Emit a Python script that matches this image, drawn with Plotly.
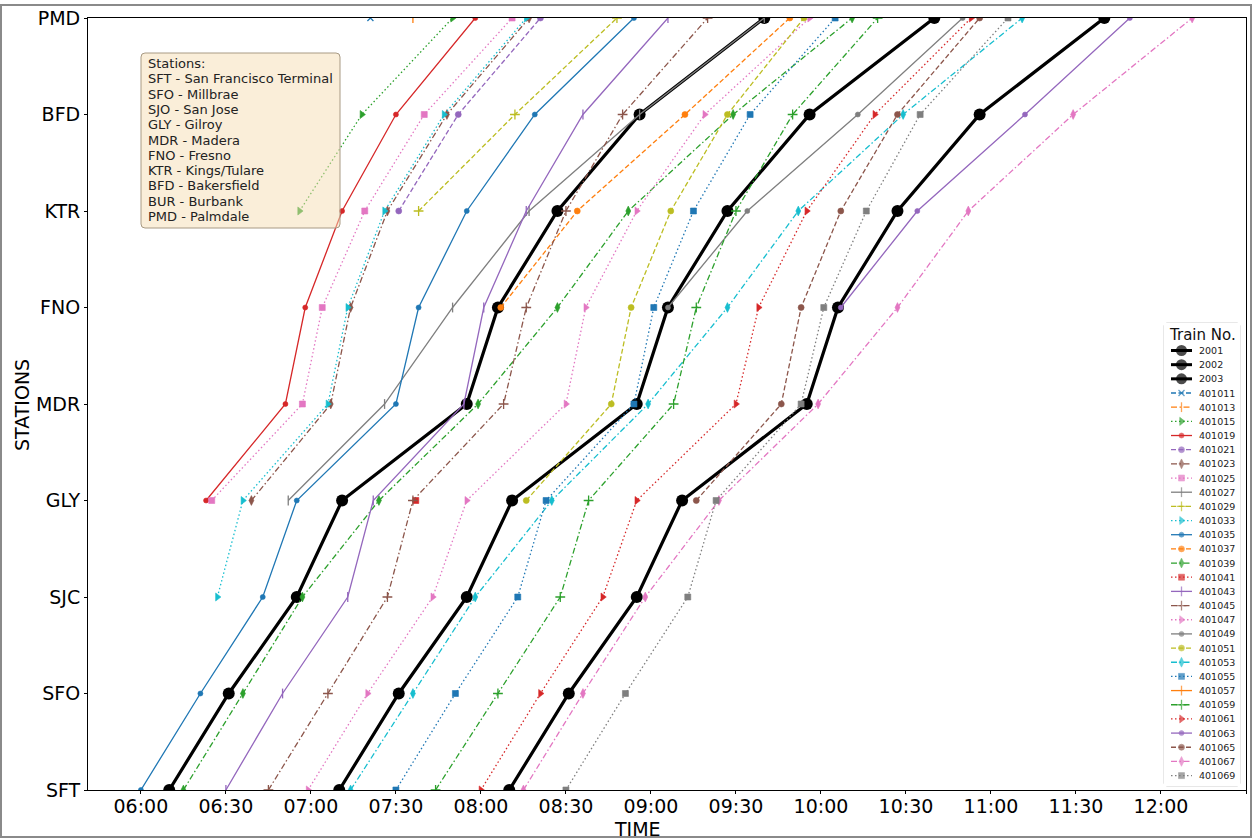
import plotly.graph_objects as go

DAY = "2000-01-01 "
STATIONS = ["SFT", "SFO", "SJC", "GLY", "MDR", "FNO", "KTR", "BFD", "PMD"]
N = None

# Departure times per station, ordered SFT -> PMD (None = no stop shown)
t2001 = ["06:10", "06:31", "06:55", "07:11", "07:55", "08:06", "08:27", "08:56", "09:40"]
t2002 = ["07:10", "07:31", "07:55", "08:11", "08:55", "09:06", "09:27", "09:56", "10:40"]
t2003 = ["08:10", "08:31", "08:55", "09:11", "09:55", "10:06", "10:27", "10:56", "11:40"]
t401011 = [N, N, N, N, N, N, N, N, "07:21"]
t401013 = [N, N, N, N, N, N, N, N, "07:36"]
t401015 = [N, N, N, N, N, N, "06:56", "07:18", "07:50"]
t401019 = [N, N, N, "06:23", "06:51", "06:58", "07:11", "07:30", "07:58"]
t401021 = [N, N, N, N, N, N, "07:31", "07:52", "08:21"]
t401023 = [N, N, N, "06:39", "07:07", "07:14", "07:27", "07:48", "08:17"]
t401025 = [N, N, N, "06:25", "06:57", "07:04", "07:19", "07:40", "08:11"]
t401027 = [N, N, N, "06:52", "07:26", "07:50", "08:17", "08:56", "09:40"]
t401029 = [N, N, N, N, N, N, "07:38", "08:12", "08:48"]
t401033 = [N, N, "06:27", "06:36", "07:06", "07:13", "07:26", "07:47", "08:16"]
t401035 = ["06:00", "06:21", "06:43", "06:55", "07:30", "07:38", "07:55", "08:19", "08:54"]
t401037 = [N, N, N, N, N, "08:07", "08:34", "09:12", "09:49"]
t401039 = ["06:15", "06:36", "06:57", "07:24", "07:59", "08:27", "08:52", "09:29", "10:11"]
t401041 = [N, N, N, "07:37", N, N, N, N, N]
t401043 = ["06:30", "06:50", "07:13", "07:22", "07:54", "08:01", "08:16", "08:36", "09:06"]
t401045 = ["06:45", "07:06", "07:27", "07:36", "08:08", "08:16", "08:30", "08:50", "09:20"]
t401047 = ["06:59", "07:20", "07:43", "07:55", "08:30", "08:37", "08:55", "09:19", "09:56"]
t401049 = [N, N, N, N, N, "09:06", "09:34", "10:13", "10:50"]
t401051 = [N, N, N, "08:16", "08:46", "08:53", "09:07", "09:27", "09:54"]
t401053 = ["07:14", "07:36", "07:58", "08:25", "08:59", "09:27", "09:52", "10:29", "11:11"]
t401055 = ["07:30", "07:51", "08:13", "08:23", "08:54", "09:01", "09:15", "09:35", "10:05"]
t401057 = [N, N, N, N, N, N, N, N, N]
t401059 = ["07:44", "08:06", "08:28", "08:38", "09:08", "09:16", "09:30", "09:50", "10:20"]
t401061 = ["08:00", "08:21", "08:43", "08:55", "09:30", "09:38", "09:55", "10:19", "10:53"]
t401063 = [N, N, N, N, N, "10:07", "10:34", "11:12", "11:49"]
t401065 = [N, N, N, "09:16", "09:46", "09:53", "10:07", "10:27", "10:56"]
t401067 = ["08:15", "08:36", "08:58", "09:24", "09:59", "10:27", "10:52", "11:29", "12:11"]
t401069 = ["08:30", "08:51", "09:13", "09:23", "09:53", "10:01", "10:16", "10:35", "11:06"]

TRAINS = [
    ("2001", t2001), ("2002", t2002), ("2003", t2003),
    ("401011", t401011), ("401013", t401013), ("401015", t401015),
    ("401019", t401019), ("401021", t401021), ("401023", t401023),
    ("401025", t401025), ("401027", t401027), ("401029", t401029),
    ("401033", t401033), ("401035", t401035), ("401037", t401037),
    ("401039", t401039), ("401041", t401041), ("401043", t401043),
    ("401045", t401045), ("401047", t401047), ("401049", t401049),
    ("401051", t401051), ("401053", t401053), ("401055", t401055),
    ("401057", t401057), ("401059", t401059), ("401061", t401061),
    ("401063", t401063), ("401065", t401065), ("401067", t401067),
    ("401069", t401069),
]

STATION_NOTES = [
    "Stations:",
    "SFT - San Francisco Terminal",
    "SFO - Millbrae",
    "SJO - San Jose",
    "GLY - Gilroy",
    "MDR - Madera",
    "FNO - Fresno",
    "KTR - Kings/Tulare",
    "BFD - Bakersfield",
    "BUR - Burbank",
    "PMD - Palmdale",
]

# tab10 palette, line dash patterns and marker shapes
C = {"blue": "#1f77b4", "orange": "#ff7f0e", "green": "#2ca02c", "red": "#d62728",
     "purple": "#9467bd", "brown": "#8c564b", "pink": "#e377c2", "gray": "#7f7f7f",
     "olive": "#bcbd22", "cyan": "#17becf"}
DASH = {"-": "solid", "--": "5px,2.5px", ":": "1.5px,2.5px", "-.": "6px,2.5px,1.5px,2.5px"}
SYM = {"x": ("x-thin-open", 6), "|": ("line-ns-open", 7), ">": ("triangle-right", 7),
       ".": ("circle", 5), "o": ("circle", 6), "d": ("diamond-tall", 7),
       "s": ("square", 6), "+": ("cross-thin-open", 7)}

STYLE = {
    "401011": ("blue", "--", "x"), "401013": ("orange", "-.", "|"),
    "401015": ("green", ":", ">"), "401019": ("red", "-", "."),
    "401021": ("purple", "--", "o"), "401023": ("brown", "-.", "d"),
    "401025": ("pink", ":", "s"), "401027": ("gray", "-", "|"),
    "401029": ("olive", "--", "+"), "401033": ("cyan", ":", ">"),
    "401035": ("blue", "-", "."), "401037": ("orange", "--", "o"),
    "401039": ("green", "-.", "d"), "401041": ("red", ":", "s"),
    "401043": ("purple", "-", "|"), "401045": ("brown", "-.", "+"),
    "401047": ("pink", ":", ">"), "401049": ("gray", "-", "."),
    "401051": ("olive", "--", "o"), "401053": ("cyan", "-.", "d"),
    "401055": ("blue", ":", "s"), "401057": ("orange", "-", "|"),
    "401059": ("green", "-.", "+"), "401061": ("red", ":", ">"),
    "401063": ("purple", "-", "."), "401065": ("brown", "--", "o"),
    "401067": ("pink", "-.", "d"), "401069": ("gray", ":", "s"),
}


def style_of(name):
    if name in STYLE:
        col, ls, mk = STYLE[name]
        sym, size = SYM[mk]
        return dict(color=C[col], dash=DASH[ls], width=1.3, symbol=sym, size=size,
                    mlw=1.3 if sym.endswith("open") else 0.6)
    return dict(color="black", dash="solid", width=3.2, symbol="circle", size=12, mlw=0)


# figure geometry (pixels)
W, H = 1257, 840
PL, PT, PW, PH = 88, 18, 1158, 772


def px(xp):
    return (xp - PL) / PW


def py(yp):
    return (PT + PH - yp) / PH


def rounded_rect(x0, y0, x1, y1, r):
    """SVG path of a rounded rectangle given in figure pixels, in paper units."""
    rx, ry = r / PW, r / PH
    a, b, c, d = px(x0), px(x1), py(y1), py(y0)
    return (f"M{a + rx},{c} L{b - rx},{c} Q{b},{c} {b},{c + ry} "
            f"L{b},{d - ry} Q{b},{d} {b - rx},{d} L{a + rx},{d} Q{a},{d} {a},{d - ry} "
            f"L{a},{c + ry} Q{a},{c} {a + rx},{c} Z")


fig = go.Figure()

for name, times in TRAINS:
    st = style_of(name)
    pts = [(DAY + t, i) for i, t in enumerate(times) if t]
    fig.add_trace(go.Scatter(
        x=[p[0] for p in pts], y=[p[1] for p in pts],
        mode="lines+markers", name=name, showlegend=False,
        line=dict(color=st["color"], width=st["width"], dash=st["dash"]),
        marker=dict(symbol=st["symbol"], size=st["size"], color=st["color"],
                    line=dict(color=st["color"], width=st["mlw"])),
        cliponaxis=True,
    ))

# Legend panel drawn on its own small axes (pixel-like units)
LX0, LX1, LY0, LY1 = 1164, 1240, 323, 786
for i, (name, _) in enumerate(TRAINS):
    st = style_of(name)
    yy = 350.5 + i * 14.17
    big = name in ("2001", "2002", "2003")
    fig.add_trace(go.Scatter(
        x=[1171, 1181.5, 1192], y=[yy, yy, yy], xaxis="x2", yaxis="y2",
        mode="lines+markers", showlegend=False, hoverinfo="skip",
        line=dict(color=st["color"], width=3 if big else 1.3, dash=st["dash"]),
        marker=dict(symbol=st["symbol"], size=[0, 11 if big else st["size"], 0],
                    color=st["color"], line=dict(color=st["color"], width=st["mlw"])),
    ))
    fig.add_annotation(x=1197, y=yy, xref="x2", yref="y2", text=name, showarrow=False,
                       xanchor="left", yanchor="middle",
                       font=dict(family="DejaVu Sans", size=9.5, color="#222"))

fig.add_annotation(x=1202, y=335, xref="x2", yref="y2", text="Train No.", showarrow=False,
                   xanchor="center", yanchor="middle",
                   font=dict(family="DejaVu Sans", size=15, color="#111"))
fig.add_shape(type="path", xref="paper", yref="paper",
              path=rounded_rect(LX0, LY0, LX1, LY1, 3),
              line=dict(color="#d0d0d0", width=1), fillcolor="rgba(255,255,255,0.8)",
              layer="below")

# Station key box
fig.add_shape(type="path", xref="paper", yref="paper",
              path=rounded_rect(141, 53, 340, 228, 4),
              line=dict(color="#a89a84", width=1), fillcolor="rgba(245,222,179,0.5)",
              layer="above")
for k, line in enumerate(STATION_NOTES):
    fig.add_annotation(x=px(146), y=py(63.5 + 15.3 * k), xref="paper", yref="paper",
                       text=line, showarrow=False, xanchor="left", yanchor="middle",
                       font=dict(family="DejaVu Sans", size=13, color="#222"))

# Axis titles
axis_font = dict(family="DejaVu Sans", size=19, color="black")
fig.add_annotation(x=px(637), y=py(829), xref="paper", yref="paper", text="TIME",
                   showarrow=False, xanchor="center", yanchor="middle", font=axis_font)
fig.add_annotation(x=px(22), y=py(405), xref="paper", yref="paper", text="STATIONS",
                   showarrow=False, xanchor="center", yanchor="middle", textangle=-90,
                   font=axis_font)

# outer frame around the figure
fig.add_shape(type="rect", xref="paper", yref="paper",
              x0=px(1), x1=px(1251), y0=py(837), y1=py(5),
              line=dict(color="#8a8a8a", width=2), layer="below")

fig.update_layout(
    width=W, height=H,
    margin=dict(l=PL, r=W - PL - PW, t=PT, b=H - PT - PH),
    paper_bgcolor="white", plot_bgcolor="white",
    font=dict(family="DejaVu Sans"),
    xaxis=dict(type="date", range=[DAY + "05:41:20", DAY + "12:30"],
               tickformat="%H:%M", tick0=DAY + "06:00", dtick=1800000,
               showline=True, linecolor="black", linewidth=1, mirror=True,
               ticks="outside", ticklen=3, tickcolor="black", showgrid=False,
               zeroline=False, tickfont=axis_font, automargin=False,
               ticklabelstandoff=-4),
    yaxis=dict(range=[0, 8], tickvals=list(range(9)), ticktext=STATIONS,
               showline=True, linecolor="black", linewidth=1, mirror=True,
               ticks="outside", ticklen=3, tickcolor="black", showgrid=False,
               zeroline=False, tickfont=axis_font, automargin=False),
    xaxis2=dict(domain=[px(LX0), px(LX1)], range=[LX0, LX1],
                anchor="y2", visible=False, fixedrange=True),
    yaxis2=dict(domain=[py(LY1), py(LY0)], range=[LY1, LY0],
                anchor="x2", visible=False, fixedrange=True),
)

fig.write_html("out.html")
